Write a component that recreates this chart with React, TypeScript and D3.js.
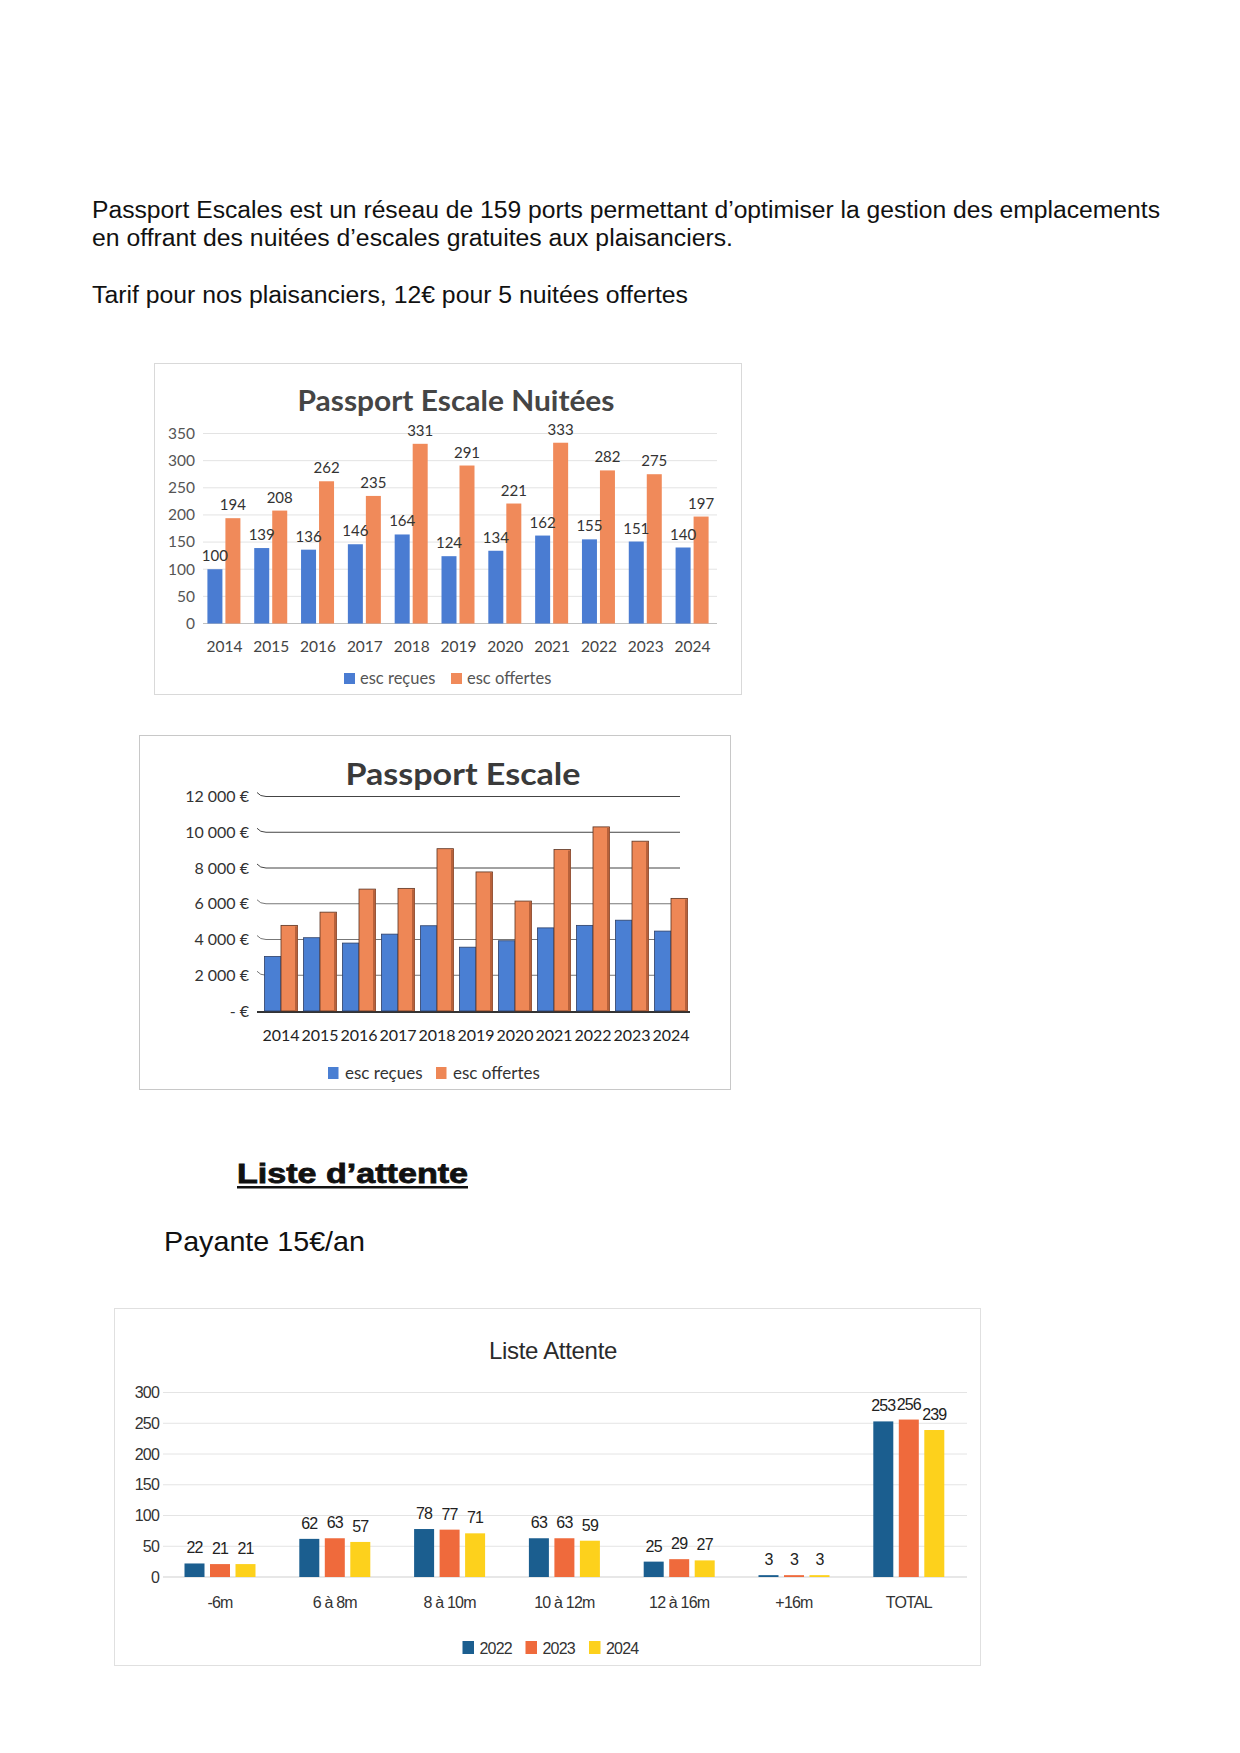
import React from 'react';
import * as d3 from 'd3';

const years = ['2014', '2015', '2016', '2017', '2018', '2019', '2020', '2021', '2022', '2023', '2024'];
const nuitRecues = [100, 139, 136, 146, 164, 124, 134, 162, 155, 151, 140];
const nuitOffertes = [194, 208, 262, 235, 331, 291, 221, 333, 282, 275, 197];
const nuitTicks = [0, 50, 100, 150, 200, 250, 300, 350];

const euroRecues = [3050, 4100, 3800, 4300, 4770, 3570, 3930, 4650, 4790, 5080, 4470];
const euroOffertes = [4790, 5530, 6820, 6860, 9080, 7780, 6150, 9030, 10300, 9500, 6300];
const euroTicks = [0, 2000, 4000, 6000, 8000, 10000, 12000];
const euroTickLabels = ['- €', '2 000 €', '4 000 €', '6 000 €', '8 000 €', '10 000 €', '12 000 €'];

const sizeCats = ['-6m', '6 à 8m', '8 à 10m', '10 à 12m', '12 à 16m', '+16m', 'TOTAL'];
const att2022 = [22, 62, 78, 63, 25, 3, 253];
const att2023 = [21, 63, 77, 63, 29, 3, 256];
const att2024 = [21, 57, 71, 59, 27, 3, 239];
const attTicks = [0, 50, 100, 150, 200, 250, 300];
const attSeries = ['2022', '2023', '2024'];

const SANS = "'Liberation Sans', Arial, sans-serif";
const CAL = "Lato, 'Open Sans', sans-serif";

const BLUE1 = '#4a7cd2';
const ORANGE1 = '#f08a5a';
const BLUE2 = '#4a7fd3';
const ORANGE2 = '#ee8756';
const C22 = '#1b5e8f';
const C23 = '#ef6a3c';
const C24 = '#fdd11c';

function Chart1() {
  const y = d3.scaleLinear().domain([0, 350]).range([623.5, 433.5]);
  const x = d3.scaleBand<string>().domain(years).range([201, 716]);
  const c = (k: string) => (x(k) as number) + x.bandwidth() / 2;
  return (
    <g>
      <rect x={154.5} y={363.5} width={587} height={331} fill="#fff" stroke="#d9d9d9" />
      <text x={456} y={411} textAnchor="middle" fontFamily={CAL} fontWeight={700} fontSize={28} fill="#454545" textLength={317} lengthAdjust="spacingAndGlyphs">Passport Escale Nuitées</text>
      {nuitTicks.map((t) => (
        <g key={t}>
          <line x1={203} x2={717} y1={y(t)} y2={y(t)} stroke={t === 0 ? '#bfbfbf' : '#e3e3e3'} />
          <text x={195} y={y(t)} dy="0.35em" textAnchor="end" fontFamily={CAL} fontSize={15.5} fill="#555">{t}</text>
        </g>
      ))}
      {years.map((k, i) => (
        <g key={k}>
          <rect x={c(k) - 17} y={y(nuitRecues[i])} width={15} height={y(0) - y(nuitRecues[i])} fill={BLUE1} />
          <rect x={c(k) + 1} y={y(nuitOffertes[i])} width={15} height={y(0) - y(nuitOffertes[i])} fill={ORANGE1} />
          <text x={c(k) - 9.5} y={y(nuitRecues[i]) - 8} textAnchor="middle" fontFamily={CAL} fontSize={15} fill="#333">{nuitRecues[i]}</text>
          <text x={c(k) + 8.5} y={y(nuitOffertes[i]) - 8} textAnchor="middle" fontFamily={CAL} fontSize={15} fill="#333">{nuitOffertes[i]}</text>
          <text x={c(k)} y={652} textAnchor="middle" fontFamily={CAL} fontSize={15.5} fill="#444">{k}</text>
        </g>
      ))}
      <rect x={344} y={673} width={11} height={11} fill={BLUE1} />
      <text x={360} y={684} fontFamily={CAL} fontSize={16.5} fill="#555">esc reçues</text>
      <rect x={451} y={673} width={11} height={11} fill={ORANGE1} />
      <text x={467} y={684} fontFamily={CAL} fontSize={16.5} fill="#555">esc offertes</text>
    </g>
  );
}

function Chart2() {
  const y = d3.scaleLinear().domain([0, 12000]).range([1011, 796.5]);
  const x = d3.scaleBand<string>().domain(years).range([261.5, 690.5]);
  const c = (k: string) => (x(k) as number) + x.bandwidth() / 2;
  const bw = 16.5;
  return (
    <g>
      <rect x={139.5} y={735.5} width={591} height={354} fill="#fff" stroke="#c8c8c8" />
      <text x={463} y={785} textAnchor="middle" fontFamily={CAL} fontWeight={700} fontSize={31} fill="#3a3a3a" textLength={235} lengthAdjust="spacingAndGlyphs">Passport Escale</text>
      {euroTicks.map((t, i) => (
        <g key={t}>
          {t > 0 && <path d={`M${257},${y(t) - 4} Q${260},${y(t)} ${266},${y(t)} L${680},${y(t)}`} fill="none" stroke={t >= 8000 ? '#444' : '#777'} strokeWidth={1} />}
          <text x={249} y={y(t)} dy="0.35em" textAnchor="end" fontFamily={CAL} fontSize={16} fill="#333">{euroTickLabels[i]}</text>
        </g>
      ))}
      <line x1={257} x2={690} y1={y(0) + 1} y2={y(0) + 1} stroke="#333" strokeWidth={2} />
      {years.map((k, i) => (
        <g key={k}>
          <rect x={c(k) - bw} y={y(euroRecues[i])} width={bw} height={y(0) - y(euroRecues[i])} fill={BLUE2} stroke="#2d3f66" strokeWidth={0.8} />
          <rect x={c(k)} y={y(euroOffertes[i])} width={bw} height={y(0) - y(euroOffertes[i])} fill={ORANGE2} stroke="#5a3322" strokeWidth={0.8} />
          <rect x={c(k) + bw - 2.5} y={y(euroOffertes[i]) + 1} width={2.5} height={y(0) - y(euroOffertes[i]) - 1} fill="#b8613a" />
          <text x={c(k)} y={1041} textAnchor="middle" fontFamily={CAL} fontSize={16} fill="#222">{k}</text>
        </g>
      ))}
      <rect x={328} y={1067} width={10.5} height={12} fill={BLUE2} />
      <text x={345} y={1078.5} fontFamily={CAL} fontSize={17} fill="#333">esc reçues</text>
      <rect x={436} y={1067} width={10.5} height={12} fill={ORANGE2} />
      <text x={453} y={1078.5} fontFamily={CAL} fontSize={17} fill="#333">esc offertes</text>
    </g>
  );
}

function Chart3() {
  const y = d3.scaleLinear().domain([0, 300]).range([1577, 1392.5]);
  const x = d3.scaleBand<string>().domain(sizeCats).range([162.6, 966.2]);
  const c = (k: string) => (x(k) as number) + x.bandwidth() / 2;
  const series = [att2022, att2023, att2024];
  const colors = [C22, C23, C24];
  const legendX = [462.5, 525.5, 589];
  return (
    <g>
      <rect x={114.5} y={1308.5} width={866} height={357} fill="#fff" stroke="#e0e0e0" />
      <text x={553} y={1359} textAnchor="middle" fontFamily={SANS} fontSize={24} fill="#2b2b2b" letterSpacing={-0.3}>Liste Attente</text>
      {attTicks.map((t) => (
        <g key={t}>
          <line x1={163} x2={967} y1={y(t)} y2={y(t)} stroke={t === 0 ? '#cfcfcf' : '#e4e4e4'} />
          <text x={159} y={y(t)} dy="0.35em" textAnchor="end" fontFamily={SANS} fontSize={16} fill="#333" letterSpacing={-0.8}>{t}</text>
        </g>
      ))}
      {sizeCats.map((k, i) => (
        <g key={k}>
          {series.map((s, j) => (
            <g key={j}>
              <rect x={c(k) - 35.5 + j * 25.5} y={y(s[i])} width={20} height={y(0) - y(s[i])} fill={colors[j]} />
              <text x={c(k) - 25.5 + j * 25.5} y={y(s[i]) - 10} textAnchor="middle" fontFamily={SANS} fontSize={16} fill="#222" letterSpacing={-0.8}>{s[i]}</text>
            </g>
          ))}
          <text x={c(k)} y={1608} textAnchor="middle" fontFamily={SANS} fontSize={16} fill="#333" letterSpacing={-0.8}>{k}</text>
        </g>
      ))}
      {attSeries.map((s, j) => (
        <g key={s}>
          <rect x={legendX[j]} y={1641} width={11.5} height={13} fill={colors[j]} />
          <text x={legendX[j] + 17} y={1654} fontFamily={SANS} fontSize={16} fill="#333" letterSpacing={-0.8}>{s}</text>
        </g>
      ))}
    </g>
  );
}

export default function App() {
  return (
    <svg width={1240} height={1753} viewBox="0 0 1240 1753" style={{ position: 'absolute', left: 0, top: 0, background: '#fff' }}>
      <rect x={0} y={0} width={1240} height={1753} fill="#fff" />
      <text x={92} y={218} fontFamily={SANS} fontSize={23.5} fill="#111" textLength={1068} lengthAdjust="spacingAndGlyphs">Passport Escales est un réseau de 159 ports permettant d’optimiser la gestion des emplacements</text>
      <text x={92} y={246} fontFamily={SANS} fontSize={23.5} fill="#111" textLength={641} lengthAdjust="spacingAndGlyphs">en offrant des nuitées d’escales gratuites aux plaisanciers.</text>
      <text x={92} y={303} fontFamily={SANS} fontSize={23.5} fill="#111" textLength={596} lengthAdjust="spacingAndGlyphs">Tarif pour nos plaisanciers, 12€ pour 5 nuitées offertes</text>
      <Chart1 />
      <Chart2 />
      <text x={237} y={1183} fontFamily={SANS} fontWeight={900} fontSize={28} fill="#111" stroke="#111" strokeWidth={0.8} textLength={231} lengthAdjust="spacingAndGlyphs">Liste d’attente</text>
      <rect x={237} y={1186} width={231} height={2.5} fill="#111" />
      <text x={164} y={1251} fontFamily={SANS} fontSize={27.5} fill="#111" textLength={201} lengthAdjust="spacingAndGlyphs">Payante 15€/an</text>
      <Chart3 />
    </svg>
  );
}
